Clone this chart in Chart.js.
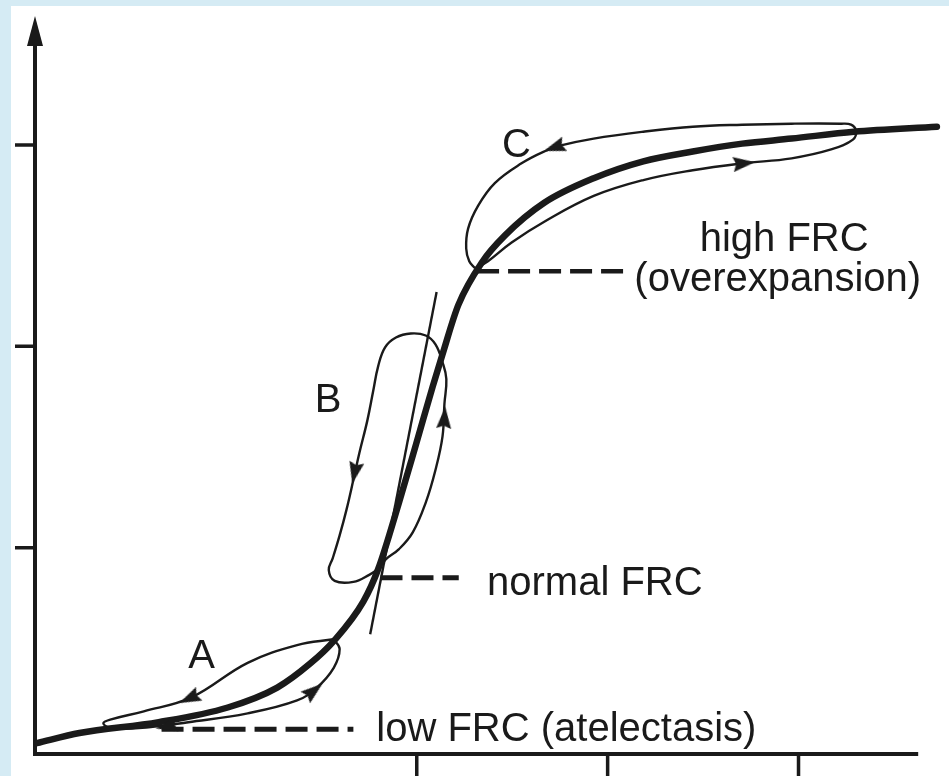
<!DOCTYPE html>
<html>
<head>
<meta charset="utf-8">
<title>Pressure-volume loops at low, normal and high FRC</title>
<script src="https://cdn.jsdelivr.net/npm/chart.js@4/dist/chart.umd.min.js"></script>
<style>
  html, body { margin: 0; padding: 0; background: #d5ebf4; }
  #panel { position: absolute; left: 11px; top: 6px; width: 938px; height: 770px; background: #fff; }
  canvas { display: block; }
</style>
</head>
<body>
<div id="panel"><canvas id="pvChart" width="938" height="770"></canvas></div>
<script>
// x = pressure, y = volume (arbitrary units)

// static P-V curve (thick sigmoid)
var curveX = [0.1, 2.33, 6.48, 10.10, 12.69, 14.40, 15.65, 17.20, 17.98, 19.07, 19.95, 20.83, 21.35, 22.18, 23.42, 24.61, 26.68, 29.27, 31.87, 34.46, 37.05, 39.64, 42.90, 47.25];
var curveY = [0.29, 0.79, 1.33, 2.06, 3.05, 4.23, 5.36, 7.32, 8.94, 12.24, 15.09, 17.99, 19.61, 22.06, 24.18, 25.50, 27.13, 28.35, 29.19, 29.68, 30.07, 30.32, 30.66, 30.91];

// loop A (low FRC)
var loopAX = [15.65, 13.73, 11.14, 8.19, 5.70, 3.99, 3.58, 3.99, 5.96, 8.03, 11.14, 13.73, 14.77, 15.65, 15.96, 15.65];
var loopAY = [5.45, 5.16, 4.28, 2.56, 1.87, 1.47, 1.28, 1.03, 1.08, 1.33, 1.77, 2.41, 3.05, 4.03, 4.96, 5.45];

// loop B (normal FRC)
var loopBX = [17.98, 18.39, 19.07, 19.79, 20.47, 20.98, 21.35, 21.45, 21.55, 21.35, 20.98, 20.47, 19.69, 18.91, 18.34, 17.98, 17.72, 17.41, 16.99, 16.68, 16.32, 15.96, 15.60, 15.39, 15.70, 16.68, 17.51, 17.98];
var loopBY = [8.94, 9.43, 9.93, 10.76, 12.24, 13.86, 15.53, 17.15, 18.38, 19.21, 20.10, 20.54, 20.64, 20.44, 19.95, 19.02, 17.79, 16.31, 14.69, 13.37, 11.89, 10.61, 9.48, 8.89, 8.35, 8.30, 8.65, 8.94];

// loop C (high FRC)
var loopCX = [23.06, 22.75, 22.59, 22.69, 23.21, 24.09, 25.49, 26.68, 27.56, 29.27, 31.87, 34.46, 37.05, 39.64, 42.23, 42.75, 43.01, 42.85, 41.71, 39.64, 37.05, 34.46, 31.87, 29.27, 26.68, 24.97, 23.73, 23.06];
var loopCY = [23.88, 24.23, 24.86, 25.85, 26.98, 28.11, 29.09, 29.68, 29.98, 30.32, 30.66, 30.91, 31.01, 31.06, 31.06, 31.01, 30.71, 30.27, 29.78, 29.34, 29.09, 28.75, 28.26, 27.47, 26.19, 25.16, 24.23, 23.88];

// tangent through the steep part
var tangentX = [17.56, 21.04];
var tangentY = [5.70, 22.70];

// dashed leaders to the labels
var lowLeadX = [6.63, 16.68];
var lowLeadY = [0.98, 0.98];
var normalLeadX = [18.1, 22.2];
var normalLeadY = [8.5, 8.5];
var highLeadX = [23.16, 31.19];
var highLeadY = [23.73, 23.73];

// arrow heads on the loops, heading in degrees clockwise from "up"
var arrowX = [8.08, 6.89, 14.61, 16.74, 21.45, 27.20, 37.15];
var arrowY = [2.51, 1.13, 2.90, 13.71, 16.46, 29.88, 29.09];
var arrowHeading = [245, 258, 51, 192, 4, 251, 84];

// axes
var xTicks = [20, 30, 40];
var yTicks = [10, 20, 30];
var X_MIN = 0, X_MAX = 47.36, X_AXIS_END = 46.27;
var Y_MIN = -0.25, Y_MAX = 36.41;

// text labels (left edge, baseline)
var labelText = ["A", "B", "C", "high FRC", "(overexpansion)", "normal FRC", "low FRC (atelectasis)"];
var labelX = [8.03, 14.66, 24.46, 34.82, 31.40, 23.68, 17.88];
var labelY = [4.03, 16.76, 29.43, 24.72, 22.75, 7.67, 0.39];

(function () {
  "use strict";

  var INK = "#1a1a1a";

  function toPoints(xs, ys) {
    return xs.map(function (x, i) { return { x: x, y: ys[i] }; });
  }

  function makeArrowHead(w, h) {
    var c = document.createElement("canvas");
    c.width = w;
    c.height = h;
    var g = c.getContext("2d");
    g.fillStyle = INK;
    g.beginPath();
    g.moveTo(w / 2, 0);
    g.lineTo(w, h);
    g.lineTo(w / 2, h - 3);
    g.lineTo(0, h);
    g.closePath();
    g.fill();
    return c;
  }

  function line(xs, ys, width, extra) {
    var ds = {
      data: toPoints(xs, ys),
      showLine: true,
      borderColor: INK,
      borderWidth: width,
      pointRadius: 0,
      fill: false,
      clip: false
    };
    Object.keys(extra || {}).forEach(function (k) { ds[k] = extra[k]; });
    return ds;
  }

  var axesPlugin = {
    id: "sketchAxes",
    beforeDatasetsDraw: function (chart) {
      var ctx = chart.ctx;
      var xs = chart.scales.x;
      var ys = chart.scales.y;
      var x0 = xs.getPixelForValue(0);
      var yBase = ys.getPixelForValue(Y_MIN);
      var xEnd = xs.getPixelForValue(X_AXIS_END);
      var yTip = ys.getPixelForValue(Y_MAX);

      ctx.save();
      ctx.strokeStyle = INK;
      ctx.fillStyle = INK;
      ctx.lineWidth = 4;
      ctx.beginPath();
      ctx.moveTo(x0 - 2, yBase);
      ctx.lineTo(xEnd, yBase);
      ctx.moveTo(x0, yBase + 2);
      ctx.lineTo(x0, yTip + 26);
      ctx.stroke();

      // arrow on the volume axis
      ctx.beginPath();
      ctx.moveTo(x0, yTip);
      ctx.lineTo(x0 + 8, yTip + 30);
      ctx.lineTo(x0 - 8, yTip + 30);
      ctx.closePath();
      ctx.fill();

      ctx.lineWidth = 3.5;
      ctx.beginPath();
      xTicks.forEach(function (v) {
        var px = xs.getPixelForValue(v);
        ctx.moveTo(px, yBase);
        ctx.lineTo(px, yBase + 24);
      });
      yTicks.forEach(function (v) {
        var py = ys.getPixelForValue(v);
        ctx.moveTo(x0, py);
        ctx.lineTo(x0 - 20, py);
      });
      ctx.stroke();
      ctx.restore();
    }
  };

  var labelPlugin = {
    id: "sketchLabels",
    afterDatasetsDraw: function (chart) {
      var ctx = chart.ctx;
      var xs = chart.scales.x;
      var ys = chart.scales.y;
      ctx.save();
      ctx.font = "40px 'Liberation Sans', Arial, Helvetica, sans-serif";
      ctx.fillStyle = INK;
      ctx.textAlign = "left";
      ctx.textBaseline = "alphabetic";
      labelText.forEach(function (t, i) {
        ctx.fillText(t, xs.getPixelForValue(labelX[i]), ys.getPixelForValue(labelY[i]));
      });
      ctx.restore();
    }
  };

  var dash = [22, 9];

  new Chart(document.getElementById("pvChart"), {
    type: "scatter",
    data: {
      datasets: [
        {
          data: toPoints(arrowX, arrowY),
          pointStyle: makeArrowHead(15, 22),
          pointRadius: 9,
          pointRotation: arrowHeading,
          backgroundColor: INK,
          borderColor: INK,
          clip: false
        },
        line(curveX, curveY, 6.5, { cubicInterpolationMode: "monotone", borderCapStyle: "round" }),
        line(loopAX, loopAY, 2.4, { tension: 0.4 }),
        line(loopBX, loopBY, 2.4, { tension: 0.4 }),
        line(loopCX, loopCY, 2.4, { tension: 0.4 }),
        line(tangentX, tangentY, 2.4),
        line(lowLeadX, lowLeadY, 5, { borderDash: dash }),
        line(normalLeadX, normalLeadY, 5, { borderDash: dash }),
        line(highLeadX, highLeadY, 4.5, { borderDash: dash })
      ]
    },
    options: {
      responsive: false,
      animation: false,
      devicePixelRatio: 1,
      events: [],
      layout: { padding: { left: 24, right: 0, top: 2, bottom: 22 } },
      plugins: { legend: { display: false }, tooltip: { enabled: false } },
      scales: {
        x: { type: "linear", min: X_MIN, max: X_MAX, display: false },
        y: { type: "linear", min: Y_MIN, max: Y_MAX, display: false }
      }
    },
    plugins: [axesPlugin, labelPlugin]
  });
})();
</script>
</body>
</html>
